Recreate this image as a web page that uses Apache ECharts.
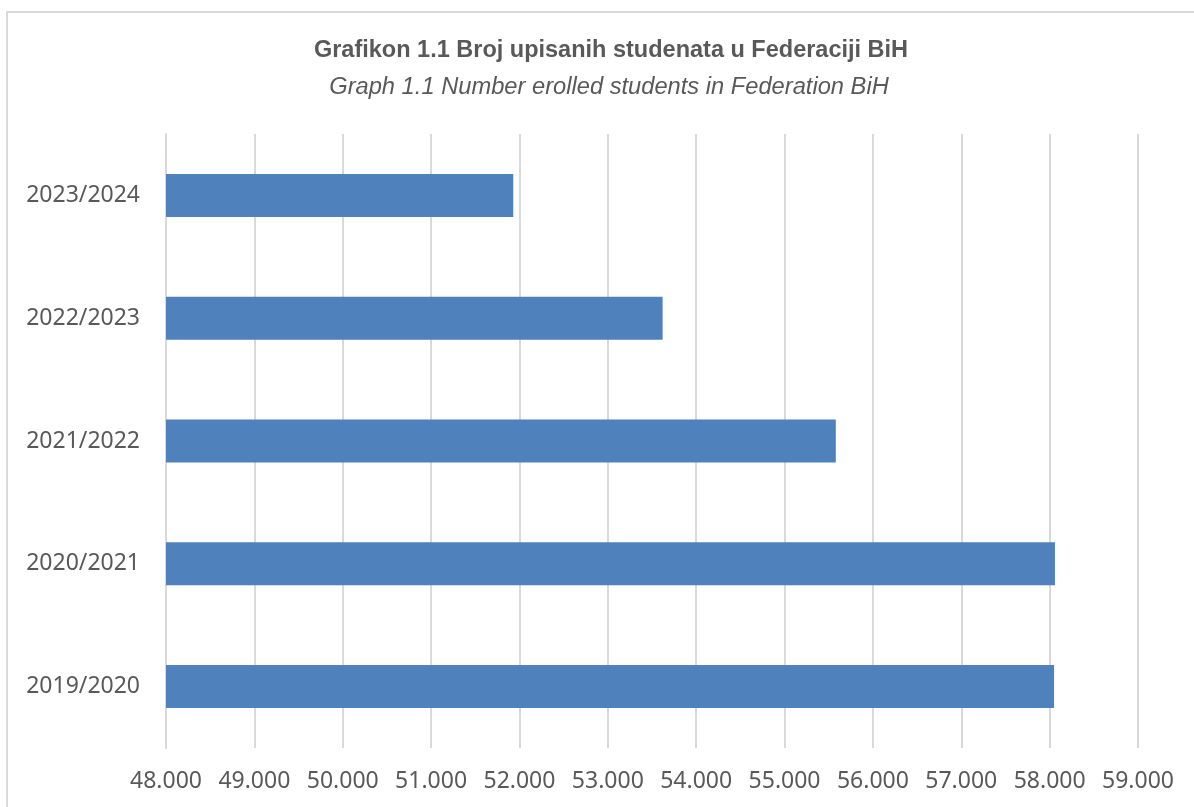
<!DOCTYPE html>
<html>
<head>
<meta charset="utf-8">
<title>Grafikon 1.1</title>
<script src="https://cdn.jsdelivr.net/npm/echarts@6/dist/echarts.min.js"></script>
<style>
  html, body { margin: 0; padding: 0; background: #fff; }
  #chart { width: 1194px; height: 807px; }
</style>
</head>
<body>
<div id="chart"></div>
<script>
// Data
const categories = ['2019/2020', '2020/2021', '2021/2022', '2022/2023', '2023/2024'];
const students = [58050, 58060, 55580, 53620, 51930];

const axisMin = 48000;
const axisMax = 59000;
const axisStep = 1000;

const textColor = '#595959';
const gridColor = '#d9d9d9';

const chart = echarts.init(document.getElementById('chart'));

chart.setOption({
  backgroundColor: '#fff',
  animation: false,
  title: [
    {
      text: 'Grafikon 1.1 Broj upisanih studenata u Federaciji BiH',
      left: 606,
      top: 34,
      textAlign: 'center',
      textStyle: {
        fontFamily: '"Liberation Sans", Arial, sans-serif',
        fontWeight: 'bold',
        fontSize: 23.5,
        color: textColor
      }
    },
    {
      text: 'Graph 1.1 Number erolled students in Federation BiH',
      left: 604,
      top: 70,
      textAlign: 'center',
      textStyle: {
        fontFamily: '"Liberation Sans", Arial, sans-serif',
        fontStyle: 'italic',
        fontWeight: 'normal',
        fontSize: 23.7,
        color: textColor
      }
    }
  ],
  graphic: [
    {
      type: 'rect',
      shape: { x: 7, y: 12, width: 1300, height: 900 },
      style: { fill: 'none', stroke: gridColor, lineWidth: 2 },
      silent: true
    }
  ],
  grid: {
    left: 166,
    right: 56,
    top: 134,
    bottom: 59,
    containLabel: false
  },
  xAxis: {
    type: 'value',
    min: axisMin,
    max: axisMax,
    interval: axisStep,
    axisLine: { show: false },
    axisTick: { show: false },
    splitLine: { lineStyle: { color: gridColor, width: 2 } },
    axisLabel: {
      margin: 22,
      color: textColor,
      fontSize: 23,
      fontFamily: '"Noto Sans", sans-serif',
      formatter: v => (v / 1000).toFixed(3)
    }
  },
  yAxis: {
    type: 'category',
    data: categories,
    axisLine: { show: true, lineStyle: { color: gridColor, width: 2 } },
    axisTick: { show: false },
    axisLabel: {
      margin: 26,
      color: textColor,
      fontSize: 23,
      fontFamily: '"Noto Sans", sans-serif'
    }
  },
  series: [{
    type: 'bar',
    data: students,
    barWidth: 43,
    itemStyle: { color: '#4f81bd' }
  }]
});
</script>
</body>
</html>
